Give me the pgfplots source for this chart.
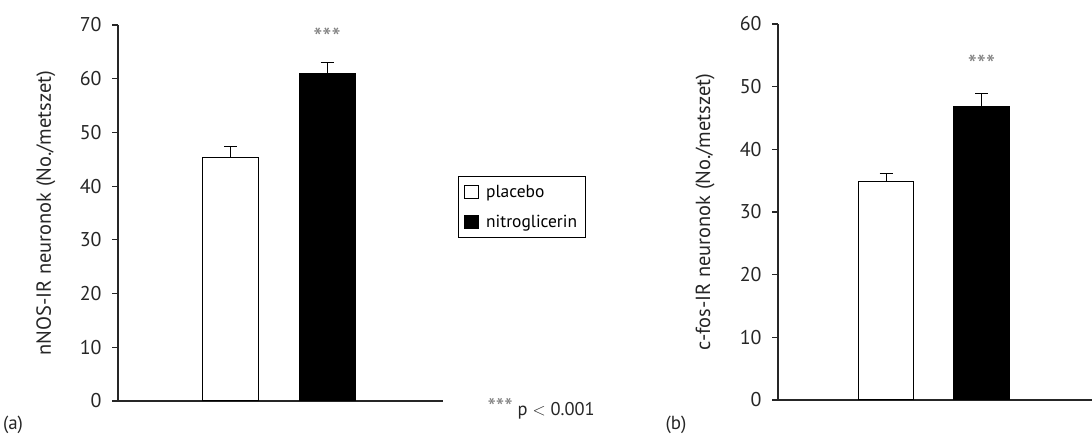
\documentclass[border=0pt]{standalone}
\usepackage{fontspec}
\setmainfont{PT Sans}
\usepackage{pgfplots}
\pgfplotsset{compat=1.18}
\pgfplotsset{
  mybars/.style={
    scale only axis,
    axis x line*=bottom, axis y line*=left,
    axis line style={line width=1.1bp, black!85},
    xtick=\empty,
    ytick pos=left, tick align=outside, major tick length=6bp,
    every tick/.style={line width=1.1bp, black!85},
    yticklabel style={font=\fontsize{20}{23}\selectfont, text=black!85, xshift=-7bp},
    ylabel style={font=\fontsize{20.5}{24}\selectfont, text=black!85, anchor=center},
    /pgf/number format/assume math mode=true,
    ybar, bar shift=0pt, bar width=0.58,
    ymin=0,
    clip=false,
  },
  errstyle/.style={error bars/.cd, y dir=plus, y explicit, error mark=|,
    error mark options={mark size=6.5bp, line width=0.9bp, black},
    error bar style={line width=0.9bp, black}},
}
\begin{document}
\begin{tikzpicture}[x=1bp,y=1bp]
\useasboundingbox (0,0) rectangle (1092,436);
% ---- panel (a)
\begin{axis}[mybars,
  at={(118bp,35bp)}, anchor=south west,
  width=325bp, height=376bp,
  xmin=-0.166, xmax=3.202, ymax=70, ytick={0,10,...,70},
  ylabel={nNOS-IR neuronok (No./metszet)},
  ylabel style={at={(axis description cs:-0.222,0.5)}},
  legend style={at={(rel axis cs:1.046,0.599)}, anchor=north west,
    draw=black, line width=0.8bp, font=\fontsize{17.5}{20}\selectfont,
    row sep=12bp, column sep=5bp, inner xsep=6bp, inner ysep=7bp, legend cell align=left},
  legend image code/.code={\draw[#1, draw=black, line width=0.8bp] (0bp,-6.5bp) rectangle (14bp,6.5bp);},
]
\addplot[draw=black, line width=1bp, fill=white, errstyle] coordinates {(1,45.4) +- (0,2.0)};
\addlegendentry{placebo}
\addplot[draw=black, line width=1bp, fill=black, errstyle] coordinates {(2,60.9) +- (0,2.1)};
\addlegendentry{nitroglicerin}
\node[text=black!50, font=\fontsize{26}{30}\selectfont] at (axis cs:2,67.8) {***};
\end{axis}
\node[text=black!85, font=\fontsize{19}{22}\selectfont] at (13,11) {(a)};
\node[text=black!85, font=\fontsize{18.5}{21}\selectfont, anchor=west] at (484,27) {{\color{black!50}\fontsize{24}{26}\selectfont***} p $<$ 0.001};
% ---- panel (b)
\begin{axis}[mybars,
  at={(778bp,36bp)}, anchor=south west,
  width=314bp, height=376bp,
  xmin=-0.131, xmax=3.157, ymax=60, ytick={0,10,...,60},
  ylabel={c-fos-IR neuronok (No./metszet)},
  ylabel style={at={(axis description cs:-0.232,0.5)}},
]
\addplot[draw=black, line width=1bp, fill=white, errstyle] coordinates {(1,34.9) +- (0,1.2)};
\addplot[draw=black, line width=1bp, fill=black, errstyle] coordinates {(2,46.8) +- (0,2.1)};
\node[text=black!50, font=\fontsize{26}{30}\selectfont] at (axis cs:2,53.5) {***};
\end{axis}
\node[text=black!85, font=\fontsize{19}{22}\selectfont] at (676,11) {(b)};
\end{tikzpicture}
\end{document}
